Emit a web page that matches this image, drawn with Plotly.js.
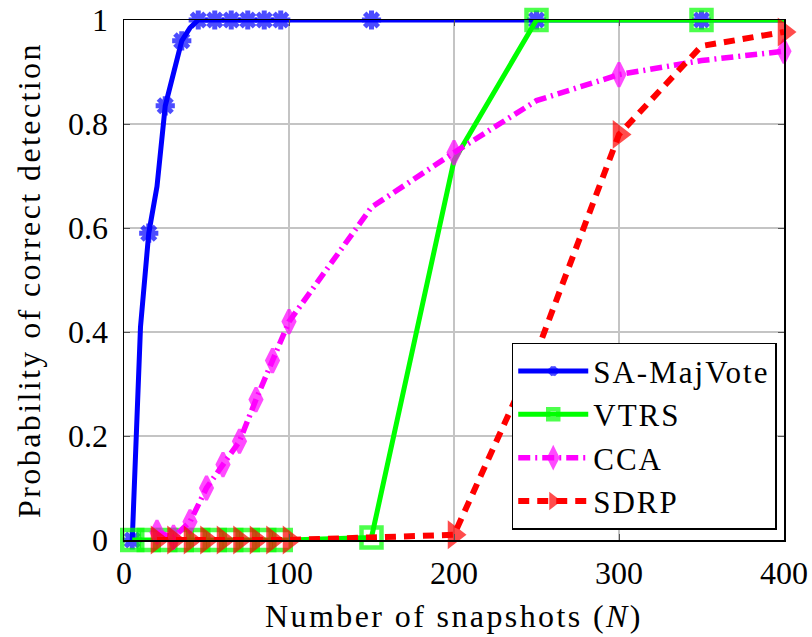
<!DOCTYPE html>
<html><head><meta charset="utf-8">
<script src="https://cdn.plot.ly/plotly-3.0.1.min.js"></script>
<style>
html,body{margin:0;padding:0;background:#fff}
#chart{width:812px;height:637px}
.xtitle, .ytitle{letter-spacing:2.4px}
text.legendtext{letter-spacing:2px}
</style>
</head><body><div id="chart"></div>
<script>
// SA-MajVote
const saX = [5,10,15,20,25,30,35,40,45,50,55,60,65,70,75,80,85,90,95,100,150,200,250,300,350,400];
const saY = [0,0.41,0.59,0.68,0.835,0.90,0.96,0.985,1,1,1,1,1,1,1,1,1,1,1,1,1,1,1,1,1,1];
const saMarkX = [5,15,25,35,45,55,65,75,85,95,150,250,350];
// VTRS
const vtX = [5,10,15,20,25,30,35,40,45,50,55,60,65,70,75,80,85,90,95,100,150,200,250,300,350,400];
const vtY = [0,0,0,0,0,0,0,0,0,0,0,0,0,0,0,0,0,0,0,0,0.005,0.73,1,1,1,1];
const vtMarkX = [5,15,25,35,45,55,65,75,85,95,150,250,350];
// CCA
const ccaX = [20,30,40,50,60,70,80,90,100,150,200,250,300,350,400];
const ccaY = [0.015,0.005,0.035,0.10,0.145,0.19,0.27,0.345,0.42,0.64,0.745,0.845,0.895,0.922,0.94];
const ccaMarkX = [20,30,40,50,60,70,80,90,100,200,300,400];
// SDRP
const sdX = [20,30,40,50,60,70,80,90,100,150,200,250,300,350,400];
const sdY = [0,0,0,0,0,0,0,0,0,0.005,0.01,0.36,0.78,0.95,0.977];
const sdMarkX = [20,30,40,50,60,70,80,90,100,200,300,400];

const xTicks = [0,100,200,300,400];
const yTicks = [0,0.2,0.4,0.6,0.8,1];
const yTickText = ['0','0.2','0.4','0.6','0.8','1'];

function sizes(xs, marks, s){ return xs.map(x => marks.includes(x) ? s : 0); }

const traces = [
  {x: saX, y: saY, name: 'SA-MajVote', mode: 'lines+markers', cliponaxis: false,
   line: {color: '#0000ff', width: 5},
   marker: {symbol: 'asterisk-open', size: sizes(saX, saMarkX, 16), color: '#0000ff',
            line: {color: '#0000ff', width: 5}}},
  {x: vtX, y: vtY, name: 'VTRS', mode: 'lines+markers', cliponaxis: false,
   line: {color: '#00ff00', width: 5},
   marker: {symbol: 'square-open', size: sizes(vtX, vtMarkX, 20), color: '#00ff00',
            line: {color: '#00ff00', width: 4.5}}},
  {x: ccaX, y: ccaY, name: 'CCA', mode: 'lines+markers', cliponaxis: false,
   line: {color: '#ff00ff', width: 5.5, dash: '12px,5px,2px,5px'},
   marker: {symbol: 'diamond-tall', size: sizes(ccaX, ccaMarkX, 17), color: '#ff00ff',
            line: {color: '#ff00ff', width: 3}}},
  {x: sdX, y: sdY, name: 'SDRP', mode: 'lines+markers', cliponaxis: false,
   line: {color: '#ff0000', width: 6, dash: '11px,8px'},
   marker: {symbol: 'triangle-right', size: sizes(sdX, sdMarkX, 25), color: '#ff0000',
            line: {width: 0}}}
];

const font = 'Liberation Serif, DejaVu Serif, serif';
const layout = {
  width: 812, height: 637,
  margin: {l: 124, r: 28, t: 20, b: 97},
  paper_bgcolor: '#fff', plot_bgcolor: '#fff',
  font: {family: font, color: '#000', size: 22},
  showlegend: true,
  xaxis: {range: [0,400], tickvals: xTicks, ticktext: xTicks.map(String),
    showgrid: true, gridcolor: '#c4c4c4', gridwidth: 1.3, zeroline: false,
    showline: true, linecolor: '#000', linewidth: 1.5, mirror: 'ticks',
    ticks: 'inside', ticklen: 6, tickcolor: '#555', tickwidth: 1,
    ticklabelstandoff: 4,
    tickfont: {family: font, size: 32},
    title: {text: 'Number of snapshots (<i>N</i>)', font: {family: font, size: 32}, standoff: 14}},
  yaxis: {range: [0,1], tickvals: yTicks, ticktext: yTickText,
    showgrid: true, gridcolor: '#c4c4c4', gridwidth: 1.3, zeroline: false,
    showline: true, linecolor: '#000', linewidth: 1.5, mirror: 'ticks',
    ticks: 'inside', ticklen: 6, tickcolor: '#555', tickwidth: 1,
    ticklabelstandoff: 8,
    tickfont: {family: font, size: 32},
    title: {text: 'Probability of correct detection', font: {family: font, size: 32}, standoff: 18}},
  legend: {x: 0.989, y: 0.379, xanchor: 'right', yanchor: 'top',
    bgcolor: '#fff', bordercolor: '#000', borderwidth: 1.5,
    font: {family: font, size: 31}, itemwidth: 70, tracegroupgap: 0}
};
Plotly.newPlot('chart', traces, layout, {displayModeBar: false, staticPlot: true});
</script>
</body></html>
